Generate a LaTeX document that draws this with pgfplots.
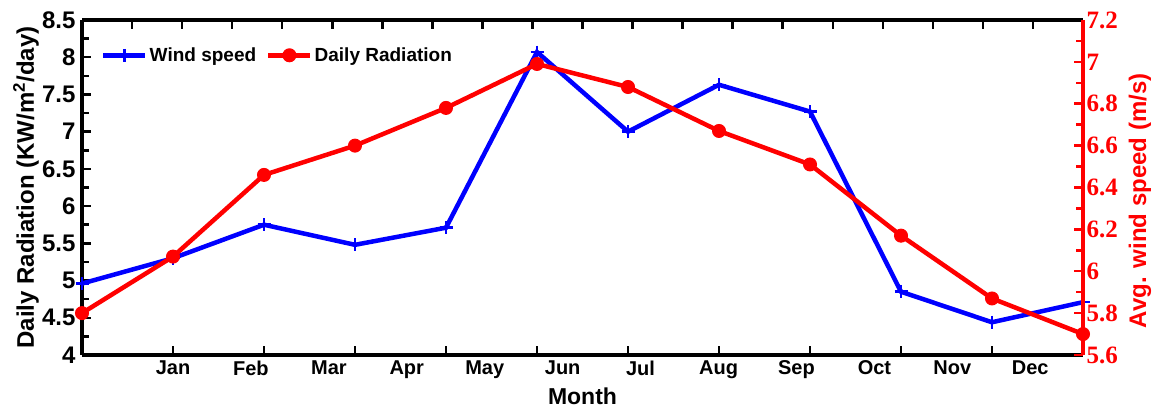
\documentclass[border=0pt]{standalone}
\usepackage{pgfplots}
\pgfplotsset{compat=1.18}
\usepackage{fontspec}
\setmainfont{Liberation Sans}
\newfontfamily\serifb{Liberation Serif}
\definecolor{myblue}{RGB}{0,0,255}
\definecolor{myred}{RGB}{255,0,0}
\begin{document}
\begin{tikzpicture}
\begin{axis}[
  at={(82pt,54pt)}, anchor=south west,
  width=1001pt, height=335pt, scale only axis,
  xmin=0, xmax=11, ymin=4, ymax=8.5,
  axis x line*=bottom, axis y line*=left,
  axis line style={line width=3.5pt, -},
  xtick={1,2,3,4,5,6,7,8,9,10,11}, xticklabels={},
  extra x ticks={1,1.856,2.713,3.569,4.426,5.282,6.138,6.995,7.851,8.708,9.564,10.420},
  extra x tick labels={Jan,Feb,Mar,Apr,May,Jun,Jul,Aug,Sep,Oct,Nov,Dec},
  extra x tick style={major tick length=0pt, tick label style={font=\fontsize{20}{23}\selectfont\bfseries, yshift=-2pt}},
  ytick={4,4.5,5,5.5,6,6.5,7,7.5,8,8.5},
  minor y tick num=1,
  tick align=inside,
  major tick length=9pt, minor tick length=7pt,
  tick style={line width=2.5pt, black},
  /pgf/number format/assume math mode=true,
  yticklabel style={font=\fontsize{24}{27}\selectfont\bfseries, xshift=-3pt},
  ylabel={Daily Radiation (KW/m\textsuperscript{2}/day)},
  ylabel style={font=\fontsize{24}{28}\selectfont\bfseries, at={(axis description cs:-0.056,0.5)}, anchor=center},
  xlabel={Month},
  xlabel style={font=\fontsize{23}{26}\selectfont\bfseries, at={(axis description cs:0.5,-0.122)}, anchor=center},
  clip=false,
]
\addplot[myblue, line width=4.5pt, mark=+, mark size=6.5pt, mark options={line width=2.5pt}] coordinates {
(0,4.96) (1,5.30) (2,5.75) (3,5.48) (4,5.71) (5,8.07) (6,7.00) (7,7.63) (8,7.27) (9,4.85) (10,4.44) (11,4.71)};
\end{axis}
\begin{axis}[
  at={(82pt,54pt)}, anchor=south west,
  width=1001pt, height=335pt, scale only axis,
  xmin=0, xmax=11, ymin=5.6, ymax=7.2,
  axis x line*=top, axis y line*=right,
  x axis line style={line width=3.5pt, -, black},
  y axis line style={line width=3.5pt, -, myred},
  xtick={0.55,1.1,1.65,2.2,2.75,3.3,3.85,4.4,4.95,5.5,6.05,6.6,7.15,7.7,8.25,8.8,9.35,9.9,10.45},
  xticklabels={},
  ytick={5.6,5.8,6,6.2,6.4,6.6,6.8,7,7.2},
  minor y tick num=1,
  tick align=inside,
  major tick length=9pt, minor tick length=7pt,
  x tick style={line width=2.5pt, black},
  y tick style={line width=2.5pt, myred},
  /pgf/number format/assume math mode=true,
  yticklabel style={font=\serifb\fontsize{25}{28}\selectfont\bfseries, text=myred},
  ylabel={Avg. wind speed (m/s)},
  ylabel style={font=\fontsize{24}{28}\selectfont\bfseries, text=myred, at={(axis description cs:1.057,0.46)}, anchor=center},
  clip=false,
  legend columns=2,
  legend style={at={(axis description cs:0.016,0.93)}, anchor=north west, draw=none, fill=none,
    font=\fontsize{19}{22}\selectfont\bfseries,
    /tikz/every even column/.append style={column sep=8pt}},
  legend image code/.code={\draw[mark repeat=2,mark phase=2] plot coordinates {(0pt,0pt) (21pt,0pt) (42pt,0pt)};},
]
\addlegendimage{myblue, line width=4.5pt, mark=+, mark size=6.5pt, mark options={line width=2.5pt}}
\addlegendentry{Wind speed}
\addplot[myred, line width=4.5pt, mark=*, mark size=6.5pt, mark options={line width=1pt}] coordinates {
(0,5.80) (1,6.07) (2,6.46) (3,6.60) (4,6.78) (5,6.99) (6,6.88) (7,6.67) (8,6.51) (9,6.17) (10,5.87) (11,5.70)};
\addlegendentry{Daily Radiation}
\end{axis}
\pgfresetboundingbox
\path[use as bounding box] (0,0) rectangle (1155pt,409pt);
\end{tikzpicture}
\end{document}
